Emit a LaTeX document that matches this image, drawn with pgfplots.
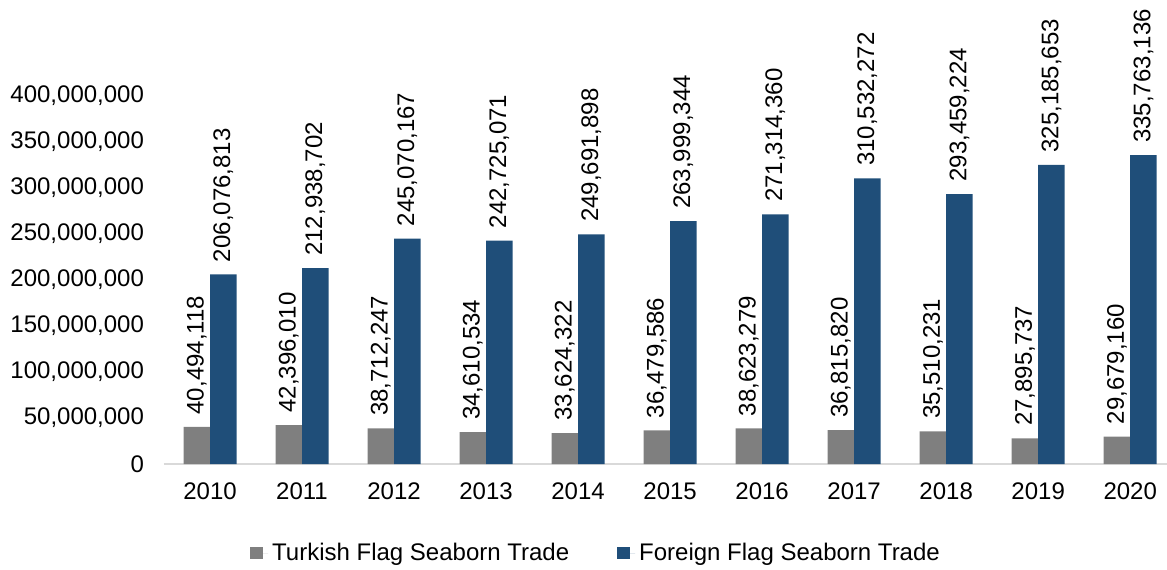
\documentclass[border=0pt]{standalone}
\usepackage{pgfplots}
\pgfplotsset{compat=1.18}
\usepackage{pgfplotstable}
\usepackage{fontspec}
\setmainfont{Liberation Sans}
\definecolor{tgray}{HTML}{7F7F7F}
\definecolor{fblue}{HTML}{1F4E79}
\definecolor{axgray}{HTML}{D9D9D9}
\newcommand\f{\fontsize{12pt}{14pt}\selectfont}
\pgfplotstableread{
x t f tl fl
0 40494118 206076813 40,494,118 206,076,813
1 42396010 212938702 42,396,010 212,938,702
2 38712247 245070167 38,712,247 245,070,167
3 34610534 242725071 34,610,534 242,725,071
4 33624322 249691898 33,624,322 249,691,898
5 36479586 263999344 36,479,586 263,999,344
6 38623279 271314360 38,623,279 271,314,360
7 36815820 310532272 36,815,820 310,532,272
8 35510231 293459224 35,510,231 293,459,224
9 27895737 325185653 27,895,737 325,185,653
10 29679160 335763136 29,679,160 335,763,136
}\datatable
\begin{document}
\begin{tikzpicture}
\path[use as bounding box] (-82pt,-52.5pt) rectangle (501.5pt,232pt);
\begin{axis}[
  scale only axis,
  width=501.5pt, height=184pt,
  ybar=0pt, bar width=13.25pt,
  xmin=-0.5, xmax=10.4,
  ymin=0, ymax=400000000,
  scaled y ticks=false,
  clip=false,
  axis x line*=bottom, axis y line*=left,
  y axis line style={draw=none},
  x axis line style={draw=axgray, line width=0.9pt},
  major tick length=0pt,
  xtick={0,...,10},
  xticklabels={2010,2011,2012,2013,2014,2015,2016,2017,2018,2019,2020},
  ytick={0,50000000,100000000,150000000,200000000,250000000,300000000,350000000,400000000},
  yticklabels={0,{50,000,000},{100,000,000},{150,000,000},{200,000,000},{250,000,000},{300,000,000},{350,000,000},{400,000,000}},
  yticklabel style={font=\f, xshift=-6.5pt},
  xticklabel style={font=\f, yshift=-6pt},
  point meta=explicit symbolic,
  nodes near coords,
  nodes near coords style={font=\f, rotate=90, anchor=west, inner xsep=6pt},
  legend image code/.code={\fill[#1] (0pt,-3.2pt) rectangle (6.4pt,3.2pt); \path (0pt,0pt) -- (9pt,0pt);},
  legend columns=2,
  legend style={draw=none, font=\f, at={(0.4317,0)}, anchor=center, yshift=-44.5pt,
    /tikz/every even column/.append style={column sep=22pt}},
]
\addplot[fill=tgray, draw=none] table[x=x, y=t, meta=tl] {\datatable};
\addlegendentry{Turkish Flag Seaborn Trade}
\addplot[fill=fblue, draw=none] table[x=x, y=f, meta=fl] {\datatable};
\addlegendentry{Foreign Flag Seaborn Trade}
\end{axis}
\end{tikzpicture}
\end{document}
